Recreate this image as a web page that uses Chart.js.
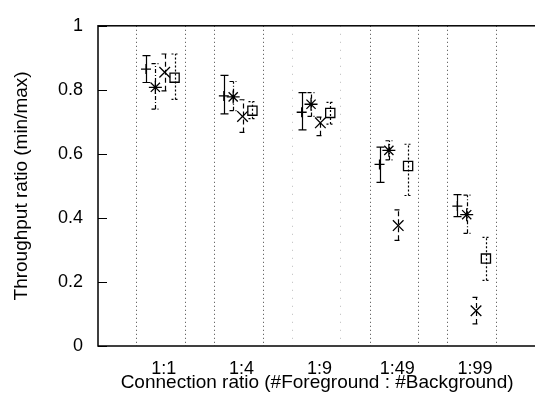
<!DOCTYPE html>
<html>
<head>
<meta charset="utf-8">
<script src="https://cdn.jsdelivr.net/npm/chart.js@4.4.1/dist/chart.umd.min.js"></script>
<style>
  html, body { margin: 0; padding: 0; background: #fff; overflow: hidden; }
  #wrap { width: 545px; height: 394px; }
</style>
</head>
<body>
<div id="wrap"><canvas id="chart" width="545" height="394"></canvas></div>
<script>
// Throughput ratio per connection ratio, 4 series with error bars
const categories = ['1:1', '1:4', '1:9', '1:49', '1:99'];
const yTickValues = [0, 0.2, 0.4, 0.6, 0.8, 1];

// series "+" (solid bars)
const plusMid = [0.865, 0.781, 0.730, 0.567, 0.437];
const plusLo  = [0.823, 0.725, 0.675, 0.511, 0.404];
const plusHi  = [0.907, 0.845, 0.791, 0.621, 0.473];

// series "*" (dash-dot bars)
const starMid = [0.808, 0.778, 0.755, 0.611, 0.410];
const starLo  = [0.740, 0.735, 0.717, 0.581, 0.352];
const starHi  = [0.882, 0.826, 0.791, 0.641, 0.471];

// series "x" (dashed bars)
const crossMid = [0.855, 0.717, 0.697, 0.376, 0.110];
const crossLo  = [0.797, 0.667, 0.657, 0.330, 0.069];
const crossHi  = [0.912, 0.769, 0.715, 0.425, 0.152];

// series "square" (dotted bars)
const squareMid = [0.838, 0.735, 0.728, 0.562, 0.273];
const squareLo  = [0.770, 0.710, 0.693, 0.470, 0.205];
const squareHi  = [0.912, 0.763, 0.761, 0.630, 0.339];

// horizontal placement inside a group (in category units)
const seriesOffset = [-0.228, -0.108, 0.012, 0.139];
const groupEdges = [-0.355, 0.27];

const FONT = '"Liberation Sans", Arial, Helvetica, sans-serif';

function pts(mid, k) {
    return mid.map((v, i) => ({ x: i + 1 + seriesOffset[k], y: v }));
}

function makeSet(label, mid, lo, hi, k, style, radius, dash) {
    return {
        label: label,
        data: pts(mid, k),
        errLo: lo,
        errHi: hi,
        errDash: dash,
        pointStyle: style,
        pointRadius: radius,
        pointHoverRadius: radius,
        borderColor: '#000',
        backgroundColor: 'rgba(0,0,0,0)',
        pointBorderWidth: 1.3,
        showLine: false
    };
}

const frame = {
    id: 'frame',
    beforeDatasetsDraw(chart) {
        const { ctx, chartArea: a, scales: { x, y } } = chart;
        ctx.save();
        // dotted group separators
        categories.forEach((c, i) => {
            groupEdges.forEach(e => {
                const px = Math.round(x.getPixelForValue(i + 1 + e)) + 0.5;
                ctx.beginPath();
                ctx.strokeStyle = c === '1:9' ? '#bbb' : '#444';
                ctx.setLineDash(c === '1:9' ? [1, 7] : [1, 3]);
                ctx.lineWidth = 1;
                ctx.moveTo(px, a.top);
                ctx.lineTo(px, a.bottom);
                ctx.stroke();
            });
        });
        ctx.setLineDash([]);
        // error bars
        chart.data.datasets.forEach((ds, di) => {
            const meta = chart.getDatasetMeta(di);
            ctx.strokeStyle = '#000';
            ctx.lineWidth = 1.2;
            meta.data.forEach((p, i) => {
                const yl = y.getPixelForValue(ds.errLo[i]);
                const yh = y.getPixelForValue(ds.errHi[i]);
                const px = Math.round(p.x) + 0.5;
                ctx.setLineDash(ds.errDash);
                ctx.beginPath();
                ctx.moveTo(px, yl);
                ctx.lineTo(px, yh);
                ctx.moveTo(px - 4, yl);
                ctx.lineTo(px + 4, yl);
                ctx.moveTo(px - 4, yh);
                ctx.lineTo(px + 4, yh);
                ctx.stroke();
            });
        });
        ctx.restore();
    },
    afterDraw(chart) {
        const { ctx, chartArea: a, scales: { y } } = chart;
        ctx.save();
        ctx.strokeStyle = '#000';
        ctx.lineWidth = 1.5;
        ctx.strokeRect(a.left, a.top, a.right - a.left, a.bottom - a.top);
        ctx.lineWidth = 1;
        yTickValues.forEach(v => {
            const py = Math.round(y.getPixelForValue(v)) + 0.5;
            ctx.beginPath();
            ctx.moveTo(a.left, py);
            ctx.lineTo(a.left + 9, py);
            ctx.stroke();
        });
        ctx.restore();
    }
};

new Chart(document.getElementById('chart'), {
    type: 'scatter',
    data: {
        datasets: [
            makeSet('+', plusMid, plusLo, plusHi, 0, 'cross', 5, []),
            makeSet('*', starMid, starLo, starHi, 1, 'star', 6.5, [4, 2, 1, 2]),
            makeSet('x', crossMid, crossLo, crossHi, 2, 'crossRot', 7.5, [5, 3]),
            makeSet('box', squareMid, squareLo, squareHi, 3, 'rect', 6.5, [2, 2])
        ]
    },
    options: {
        responsive: false,
        animation: false,
        layout: { padding: { top: 16, right: 2, left: 0, bottom: 0 } },
        plugins: { legend: { display: false }, tooltip: { enabled: false } },
        scales: {
            x: {
                type: 'linear',
                min: 0.155,
                max: 5.785,
                grid: { display: false, drawTicks: false },
                border: { display: false },
                afterBuildTicks: s => { s.ticks = categories.map((c, i) => ({ value: i + 1 })); },
                afterFit: s => { s.height = 48; },
                ticks: {
                    color: '#000',
                    padding: 12,
                    maxRotation: 0,
                    autoSkip: false,
                    font: { family: FONT, size: 18 },
                    callback: v => categories[v - 1] || ''
                },
                title: {
                    display: true,
                    text: 'Connection ratio (#Foreground : #Background)',
                    color: '#000',
                    padding: { top: 0, bottom: 0 },
                    font: { family: FONT, size: 19 }
                }
            },
            y: {
                min: 0,
                max: 1,
                grid: { display: false, drawTicks: false },
                border: { display: false },
                afterBuildTicks: s => { s.ticks = yTickValues.map(v => ({ value: v })); },
                afterFit: s => { s.width = 98; },
                ticks: {
                    color: '#000',
                    padding: 15,
                    font: { family: FONT, size: 18 },
                    callback: v => String(Math.round(v * 10) / 10)
                },
                title: {
                    display: true,
                    text: 'Throughput ratio (min/max)',
                    color: '#000',
                    padding: { top: 10, bottom: 0 },
                    font: { family: FONT, size: 19 }
                }
            }
        }
    },
    plugins: [frame]
});
</script>
</body>
</html>
